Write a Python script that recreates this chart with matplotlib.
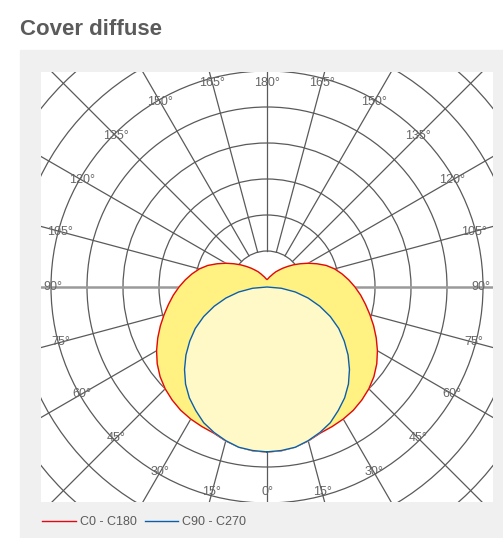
import numpy as np
import matplotlib.pyplot as plt
from matplotlib import font_manager
from matplotlib.patches import Rectangle, Circle

# narrow sans for the labels, plain sans if it is missing
_names = {f.name for f in font_manager.fontManager.ttflist}
NARROW = 'Liberation Sans Narrow' if 'Liberation Sans Narrow' in _names else 'Liberation Sans'
plt.rcParams['font.family'] = [NARROW, 'DejaVu Sans']

# luminous intensity, every 5 degrees from 0 (down) to 180 (up)
gamma = np.arange(0, 181, 5)
c0_c180 = [229.2, 228.3, 225.7, 221.4, 216.0, 213.9, 211.8, 209.0, 204.9, 200.0,
           193.8, 186.1, 177.1, 167.4, 157.6, 147.9, 138.9, 130.6, 122.2, 113.9,
           105.6, 97.2, 87.5, 76.4, 66.0, 56.3, 47.9, 40.3, 34.0, 28.5,
           24.3, 20.1, 16.7, 14.6, 12.5, 11.1, 10.4]
gamma_c90 = np.arange(0, 91, 5)
c90_c270 = [229, 228, 226, 221, 215, 208, 198, 188, 176, 162,
            147, 131, 115, 97, 78, 59, 40, 20, 0]

ring_values = [50, 100, 150, 200, 250, 300, 350, 400, 450]
spoke_angles = np.arange(0, 360, 15)
label_angles = np.arange(0, 181, 15)


def to_xy(angles, values, side=1):
    a = np.radians(angles)
    v = np.asarray(values, dtype=float)
    return side * v * np.sin(a), -v * np.cos(a)


def closed_curve(angles, values):
    xr, yr = to_xy(angles, values, 1)
    xl, yl = to_xy(angles[::-1], values[::-1], -1)
    return np.concatenate([xr, xl]), np.concatenate([yr, yl])


W, H = 503, 538
fig = plt.figure(figsize=(W / 100, H / 100), dpi=100)
fig.patches.append(Rectangle((20 / W, 0), 1 - 20 / W, 1 - 50 / H,
                             transform=fig.transFigure, color='#f0f0f0', zorder=0))

fig.text(20 / W, 1 - 35 / H, 'Cover diffuse', fontsize=16, fontweight='bold',
         color='#5b5b5b', va='baseline', ha='left')

ax = fig.add_axes([41 / W, (H - 502) / H, 452 / W, 430 / H])
ax.set_zorder(2)
scale = 50 / 36  # units per pixel
ax.set_xlim(-226 * scale, 226 * scale)
ax.set_ylim(-215 * scale, 215 * scale)
ax.set_aspect('auto')
ax.axis('off')
ax.add_patch(Rectangle((-400, -400), 800, 800, color='white', zorder=0))

grid = '#5a5a5a'
for rv in ring_values:
    ax.add_patch(Circle((0, 0), rv, fill=False, ec=grid, lw=0.9, zorder=1))
for a in spoke_angles:
    if a % 180 == 90:
        continue
    x, y = to_xy(np.array([a, a]), [50, 600])
    ax.plot(x, y, color=grid, lw=0.9, zorder=1)
ax.plot([-600, -50], [0, 0], color='#9a9a9a', lw=1.8, zorder=1)
ax.plot([50, 600], [0, 0], color='#9a9a9a', lw=1.8, zorder=1)

for a in label_angles:
    sides = [1] if a in (0, 180) else [1, -1]
    for s in sides:
        x, y = to_xy(np.array([a]), [297], s)
        y = np.clip(y, -285, 283)
        ax.text(x[0], y[0], f'{a}°', fontsize=9, color='#666666',
                ha='center', va='center', zorder=2)

xr, yr = closed_curve(gamma, c0_c180)
ax.fill(xr, yr, color='#fff283', zorder=3)
red, = ax.plot(xr, yr, color='#e30613', lw=1.0, zorder=4, label='C0 - C180')

xb, yb = closed_curve(gamma_c90, c90_c270)
ax.fill(xb, yb, color='#fff9c8', zorder=5)
blue, = ax.plot(xb, yb, color='#0b5ea8', lw=1.0, zorder=6, label='C90 - C270')

leg = fig.legend(handles=[red, blue], loc='center left',
                 bbox_to_anchor=(42 / W, 1 - 522 / H), ncol=2, frameon=False,
                 fontsize=9, handlelength=2.7, handletextpad=0.3,
                 columnspacing=0.65, borderpad=0, borderaxespad=0,
                 labelcolor='#5b5b5b')
leg.set_zorder(3)

fig.savefig('out.png', dpi=100)
